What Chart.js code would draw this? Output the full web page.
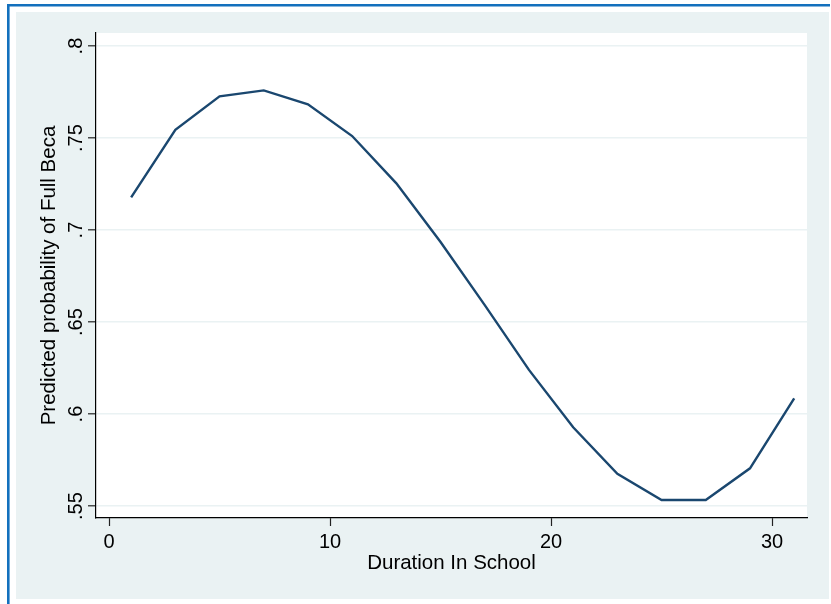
<!DOCTYPE html>
<html>
<head>
<meta charset="utf-8">
<script src="https://cdn.jsdelivr.net/npm/chart.js@4"></script>
<style>
  html, body { margin: 0; padding: 0; background: #ffffff; }
  #wrap { width: 831px; height: 604px; position: relative; }
  canvas { display: block; }
</style>
</head>
<body>
<div id="wrap"><canvas id="c" width="831" height="604"></canvas></div>
<script>
// ---- data ----
const durations = [1, 3, 5, 7, 9, 11, 13, 15, 17, 19, 21, 23, 25, 27, 29, 31];
const probabilities = [0.7178, 0.7545, 0.7727, 0.7759, 0.7683, 0.7511, 0.7254, 0.6935,
                       0.6592, 0.6240, 0.5928, 0.5675, 0.5533, 0.5533, 0.5705, 0.6085];
const xTickValues = [0, 10, 20, 30];
const yTickValues = [0.55, 0.6, 0.65, 0.7, 0.75, 0.8];
const yTickLabels = ['.55', '.6', '.65', '.7', '.75', '.8'];
const xTitle = 'Duration In School';
const yTitle = 'Predicted probability of Full Beca';

const FONT = "'Liberation Sans', Arial, Helvetica, sans-serif";

const backgroundPlugin = {
  id: 'stataBackground',
  beforeDraw(chart) {
    const ctx = chart.ctx;
    const W = chart.width, H = chart.height;
    const a = chart.chartArea;
    ctx.save();
    ctx.fillStyle = '#ffffff';
    ctx.fillRect(0, 0, W, H);
    // outer blue frame (top & left visible)
    ctx.strokeStyle = '#1370bd';
    ctx.lineWidth = 2.6;
    ctx.beginPath();
    ctx.moveTo(8.3, H + 2);
    ctx.lineTo(8.3, 5.3);
    ctx.lineTo(W - 1, 5.3);
    ctx.stroke();
    // graph region
    ctx.fillStyle = '#eaf2f3';
    ctx.fillRect(16, 12, 813, 587);
    // plot region
    ctx.fillStyle = '#ffffff';
    ctx.fillRect(a.left, a.top, a.right - a.left, a.bottom - a.top);
    ctx.restore();
  }
};

new Chart(document.getElementById('c'), {
  type: 'line',
  data: {
    datasets: [{
      data: durations.map((d, i) => ({ x: d, y: probabilities[i] })),
      borderColor: '#1a476f',
      borderWidth: 2.4,
      pointRadius: 0,
      tension: 0,
      fill: false
    }]
  },
  options: {
    responsive: false,
    animation: false,
    devicePixelRatio: 1,
    layout: { padding: { left: 16, right: 24, top: 33, bottom: 5 } },
    plugins: { legend: { display: false }, tooltip: { enabled: false } },
    scales: {
      x: {
        type: 'linear',
        min: -0.59,
        max: 31.58,
        afterBuildTicks: s => { s.ticks = xTickValues.map(v => ({ value: v })); },
        afterFit: s => { s.height = 81; },
        grid: {
          display: true,
          drawOnChartArea: false,
          drawTicks: true,
          tickLength: 8,
          tickColor: '#222',
          tickWidth: 1.2
        },
        border: { display: true, color: '#000', width: 1.2 },
        ticks: {
          padding: 4,
          color: '#000',
          font: { family: FONT, size: 20 },
          maxRotation: 0,
          minRotation: 0,
          callback: v => String(v)
        },
        title: {
          display: true,
          text: xTitle,
          color: '#000',
          font: { family: FONT, size: 20.5 },
          padding: { top: 0, bottom: 23 }
        }
      },
      y: {
        type: 'linear',
        min: 0.5435,
        max: 0.8071,
        afterBuildTicks: s => { s.ticks = yTickValues.map(v => ({ value: v })); },
        afterFit: s => { s.width = 80; },
        grid: {
          display: true,
          drawOnChartArea: true,
          color: '#eaf2f3',
          lineWidth: 1.6,
          drawTicks: true,
          tickLength: 8,
          tickColor: '#222',
          tickWidth: 1.2
        },
        border: { display: true, color: '#000', width: 1.2 },
        ticks: {
          padding: -2,
          crossAlign: 'center',
          minRotation: 90,
          maxRotation: 90,
          color: '#000',
          font: { family: FONT, size: 20 },
          callback: v => {
            const i = yTickValues.findIndex(t => Math.abs(t - v) < 1e-9);
            return i >= 0 ? yTickLabels[i] : '';
          }
        },
        title: {
          display: true,
          text: yTitle,
          color: '#000',
          font: { family: FONT, size: 20.5 },
          padding: { top: 21, bottom: 0 }
        }
      }
    }
  },
  plugins: [backgroundPlugin]
});
</script>
</body>
</html>
